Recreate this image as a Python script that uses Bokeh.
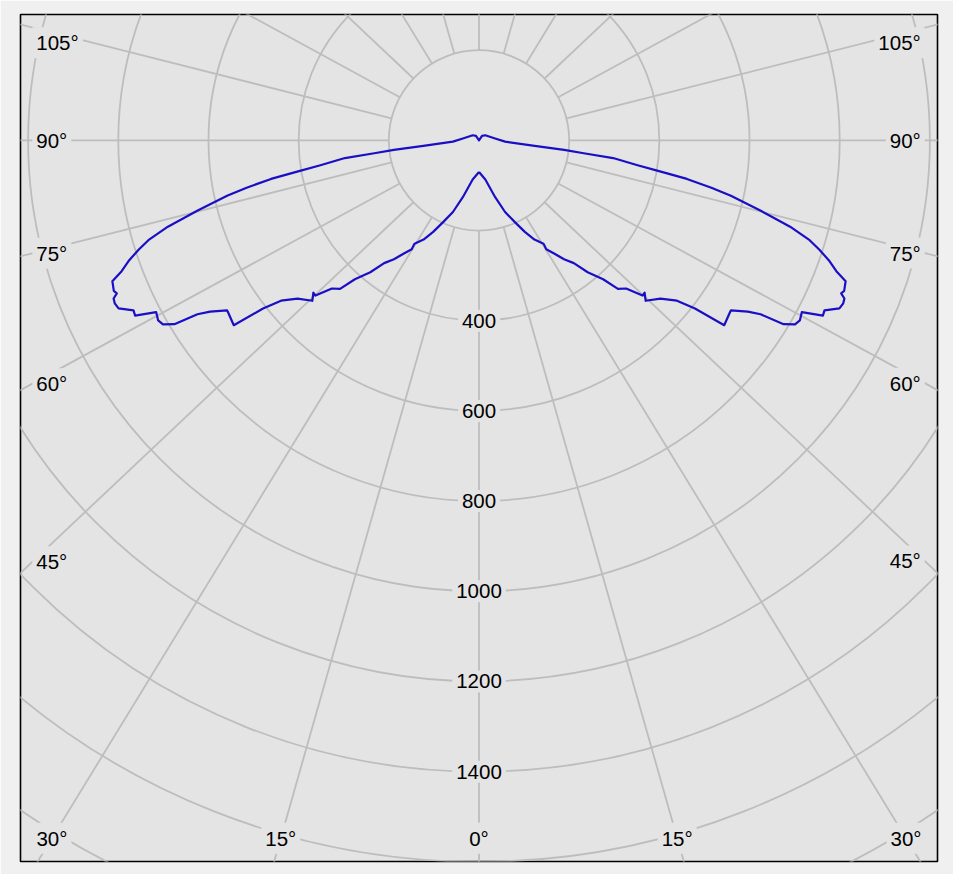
import numpy as np
from bokeh.plotting import figure
from bokeh.models import Range1d
from bokeh.core.properties import value
from bokeh.embed import file_html
from bokeh.resources import INLINE

# ---- data ----
# half-plane luminous intensity curve (mirrored left/right), gamma measured from nadir
gamma_deg = [0, 9.2, 15.9, 20.0, 23.7, 26.6, 29.2, 32.0, 31.7, 33.6, 35.6, 37.7,
             39.5, 41.8, 43.1, 44.8, 46.5, 47.4, 46.1, 48.9, 51.0, 52.1, 53.0,
             55.4, 56.0, 57.5, 58.3, 58.9, 59.8, 60.7, 62.0, 63.0, 63.8, 65.0,
             65.9, 66.6, 67.1, 67.6, 69.0, 69.9, 71.0, 72.2, 73.2, 74.5, 75.2,
             76.0, 77.6, 78.5, 79.5, 80.3, 81.1, 82.5, 83.0, 83.6, 84.4, 87.2,
             96.9, 129.2, 145.8, 180]
intensity = [70, 88, 131, 169, 198, 227, 252, 270, 284, 301, 324, 344,
             379, 413, 451, 463, 500, 499, 513, 534, 565, 607, 681,
             675, 674, 707, 734, 789, 811, 816, 811, 856, 854, 882,
             885, 883, 872, 876, 871, 844, 822, 793, 766, 716, 680,
             643, 572, 526, 469, 405, 356, 300, 234, 190, 124, 58,
             36, 18, 12, 0]

ring_values = [200, 400, 600, 800, 1000, 1200, 1400, 1600, 1800, 2000, 2200]
ring_labels = [400, 600, 800, 1000, 1200, 1400]
spoke_angles = [0, 15, 30, 45, 60, 75, 90, 105, 120, 135, 150, 165, 180]
angle_labels = [0, 15, 30, 45, 60, 75, 90, 105]

# ---- style ----
BG = "#e4e4e4"
OUTER = "#f0f0f0"
GRID = "#bdbdbd"
CURVE = "#1a0fc4"
FONT = value("Liberation Sans")
FSIZE = "20.5px"
K = 1.06  # horizontal spread of the spoke directions seen in the reference

p = figure(width=953, height=874,
           x_range=Range1d(-1016.9, 1016.9), y_range=Range1d(-1599.3, 279.2),
           x_axis_location=None, y_axis_location=None,
           output_backend="svg", toolbar_location=None,
           min_border_left=20, min_border_right=16,
           min_border_top=14, min_border_bottom=13)
p.grid.visible = False
p.background_fill_color = BG
p.border_fill_color = OUTER
p.outline_line_color = "black"
p.outline_line_width = 1.6

# rings
p.circle(x=[0] * len(ring_values), y=[0] * len(ring_values), radius=ring_values,
         fill_color=None, line_color=GRID, line_width=1.8)

# spokes (start on the innermost ring)
xs, ys = [], []
for th in spoke_angles:
    t = np.radians(th)
    for side in ([-1, 1] if 0 < th < 180 else [1]):
        dx, dy = side * K * np.sin(t), -np.cos(t)
        n = np.hypot(dx, dy)
        dx, dy = dx / n, dy / n
        r0 = ring_values[0]
        xs.append([r0 * dx, 4000 * dx])
        ys.append([r0 * dy, 4000 * dy])
p.multi_line(xs=xs, ys=ys, line_color=GRID, line_width=1.8)

# angle labels
XL, XR, YB, YT = -990.7, 988.6, -1547.7, 216.5
lx, ly, lt = [], [], []
rx, ry, rt = [], [], []
bx, by, bt = [], [], []
for th in angle_labels:
    t = np.radians(th)
    lab = f"{th}\u00b0"
    if th == 0:
        bx.append(0); by.append(YB); bt.append(lab)
        continue
    for side in (-1, 1):
        dx, dy = side * K * np.sin(t), -np.cos(t)
        xe = XL if side < 0 else XR
        yy = dy * (xe / dx)
        if yy < YB:
            bx.append(dx * (YB / dy)); by.append(YB); bt.append(lab)
        else:
            yy = min(yy, YT)
            if side < 0:
                lx.append(xe); ly.append(yy); lt.append(lab)
            else:
                rx.append(xe); ry.append(yy); rt.append(lab)

common = dict(text_font=FONT, text_font_size=FSIZE, text_color="black",
              text_baseline="middle", background_fill_color=BG, padding=4)
p.text(x=lx, y=ly, text=lt, text_align="left", **common)
p.text(x=rx, y=ry, text=rt, text_align="right", **common)
p.text(x=bx, y=by, text=bt, text_align="center", **common)

# ring value labels along the nadir spoke
p.text(x=[0] * len(ring_labels), y=[-v for v in ring_labels],
       text=[str(v) for v in ring_labels], text_align="center", **common)

# intensity curve (left half then mirrored right half)
g = np.radians(np.array(gamma_deg))
I = np.array(intensity, dtype=float)
x_left = -I * np.sin(g)
y_left = -I * np.cos(g)
cx = np.concatenate([x_left, -x_left[::-1]])
cy = np.concatenate([y_left, y_left[::-1]])
p.line(x=cx, y=cy, line_color=CURVE, line_width=2.2, line_join="round")

open("out.html", "w").write(file_html(p, INLINE))
